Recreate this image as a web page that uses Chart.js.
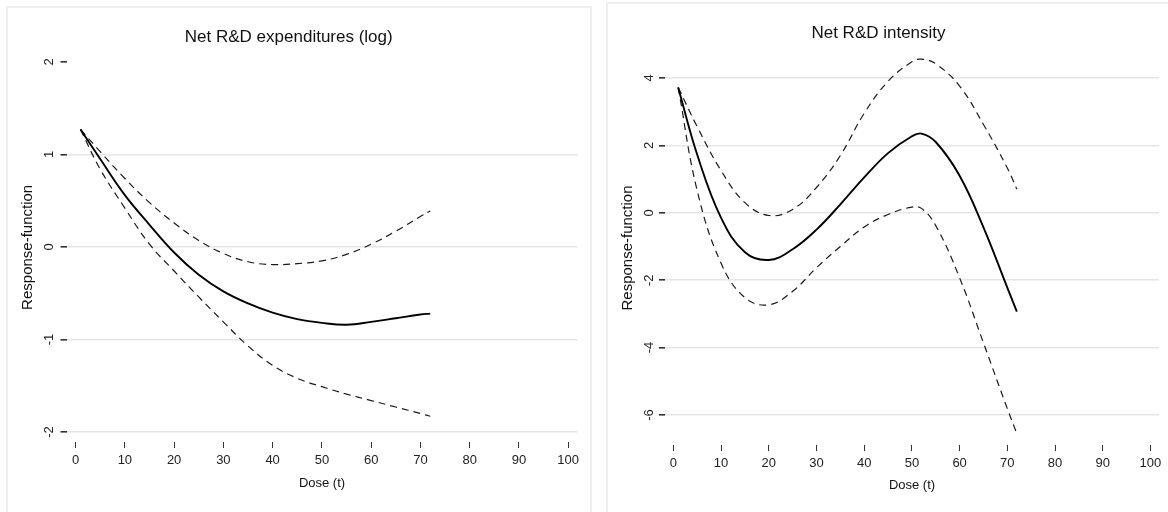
<!DOCTYPE html>
<html>
<head>
<meta charset="utf-8">
<script src="https://cdn.jsdelivr.net/npm/chart.js@4.4.1/dist/chart.umd.min.js"></script>
<style>
  html, body { margin: 0; padding: 0; background: #fff; overflow: hidden; }
  body { width: 1168px; height: 512px; position: relative; }
  .frame { position: absolute; border: 2px solid #eeeeee; box-sizing: border-box; }
  canvas { position: absolute; }
</style>
</head>
<body>
<div class="frame" style="left:6px;top:6px;width:586px;height:530px;"></div>
<div class="frame" style="left:606px;top:2px;width:580px;height:530px;"></div>
<canvas id="leftChart" width="596" height="512" style="left:0;top:0;"></canvas>
<canvas id="rightChart" width="570" height="512" style="left:598px;top:0;"></canvas>
<script>
const doseLeft = [1, 5, 10, 15, 20, 25, 30, 35, 40, 45, 50, 55, 60, 65, 70, 72];
const doseRight = [1, 5, 10, 15, 20, 25, 30, 35, 40, 45, 50, 52, 55, 60, 65, 70, 72];

// Net R&D expenditures (log)
const expResponse = [1.27, 0.95, 0.56, 0.24, -0.06, -0.30, -0.48, -0.61, -0.71, -0.78, -0.82, -0.84, -0.81, -0.77, -0.73, -0.72];
const expUpper = [1.27, 1.03, 0.74, 0.48, 0.26, 0.07, -0.07, -0.16, -0.19, -0.18, -0.15, -0.08, 0.03, 0.17, 0.33, 0.39];
const expLower = [1.27, 0.84, 0.42, 0.03, -0.26, -0.54, -0.81, -1.07, -1.28, -1.42, -1.51, -1.59, -1.66, -1.73, -1.80, -1.83];

// Net R&D intensity
const intResponse = [3.72, 1.72, -0.15, -1.17, -1.40, -1.08, -0.50, 0.25, 1.05, 1.77, 2.27, 2.35, 2.10, 1.10, -0.43, -2.22, -2.93];
const intUpper = [3.72, 2.55, 1.25, 0.30, -0.08, 0.10, 0.75, 1.70, 2.95, 3.90, 4.48, 4.56, 4.42, 3.76, 2.62, 1.33, 0.70];
const intLower = [3.72, 0.65, -1.50, -2.52, -2.73, -2.33, -1.63, -1.00, -0.42, -0.05, 0.17, 0.13, -0.38, -1.93, -3.86, -5.81, -6.55];

const xTicks = [0, 10, 20, 30, 40, 50, 60, 70, 80, 90, 100];
const yTicksLeft = [-2, -1, 0, 1, 2];
const yTicksRight = [-6, -4, -2, 0, 2, 4];

const FONT = "'Liberation Sans', Arial, sans-serif";

function toPoints(xs, ys) {
  return xs.map((x, i) => ({ x: x, y: ys[i] }));
}

function lineSet(xs, ys, dashed) {
  return {
    data: toPoints(xs, ys),
    borderColor: dashed ? '#1a1a1a' : '#000',
    borderWidth: dashed ? 1.2 : 1.9,
    borderDash: dashed ? [7, 5] : [],
    pointRadius: 0,
    fill: false,
    tension: 0.4
  };
}

function makeChart(id, cfg) {
  const ctx = document.getElementById(id).getContext('2d');
  return new Chart(ctx, {
    type: 'line',
    data: {
      datasets: [
        lineSet(cfg.xs, cfg.mid, false),
        lineSet(cfg.xs, cfg.hi, true),
        lineSet(cfg.xs, cfg.lo, true)
      ]
    },
    options: {
      responsive: false,
      animation: false,
      layout: { padding: { left: 0, right: cfg.padRight, top: 0, bottom: cfg.padBottom } },
      plugins: {
        legend: { display: false },
        tooltip: { enabled: false },
        title: {
          display: true,
          text: cfg.title,
          color: '#111',
          font: { family: FONT, size: 17, weight: 'normal', lineHeight: 1.2 },
          padding: { top: cfg.titleTop, bottom: cfg.titleBottom }
        }
      },
      scales: {
        x: {
          type: 'linear',
          min: cfg.xMin,
          max: cfg.xMax,
          afterBuildTicks: s => { s.ticks = xTicks.map(v => ({ value: v })); },
          afterFit: s => { s.height = 50; },
          border: { display: false },
          grid: { drawOnChartArea: false, drawTicks: true, tickLength: 6, tickColor: '#333', tickWidth: 1 },
          ticks: { color: '#222', padding: 5, maxRotation: 0, font: { family: FONT, size: 13 } },
          title: {
            display: true,
            text: 'Dose (t)',
            color: '#111',
            font: { family: FONT, size: 13 },
            padding: { top: 0, bottom: cfg.xTitlePad }
          }
        },
        y: {
          type: 'linear',
          min: cfg.yMin,
          max: cfg.yMax,
          afterBuildTicks: s => { s.ticks = cfg.yTicks.map(v => ({ value: v })); },
          afterFit: s => { s.width = cfg.yWidth; },
          border: { display: false },
          grid: {
            color: c => (cfg.noGrid.includes(c.tick && c.tick.value) ? 'rgba(0,0,0,0)' : '#e6e6e6'),
            lineWidth: 1.6,
            drawTicks: true,
            tickLength: 6,
            tickColor: '#333',
            tickWidth: 1.6
          },
          ticks: {
            color: '#222',
            minRotation: 90,
            maxRotation: 90,
            crossAlign: 'center',
            padding: cfg.yTickPad,
            font: { family: FONT, size: 13 }
          },
          title: {
            display: true,
            text: 'Response-function',
            color: '#111',
            font: { family: FONT, size: 15 },
            padding: { top: cfg.yTitlePad, bottom: 0 }
          }
        }
      }
    }
  });
}

makeChart('leftChart', {
  title: 'Net R&D expenditures (log)',
  xs: doseLeft, mid: expResponse, hi: expUpper, lo: expLower,
  yTicks: yTicksLeft, noGrid: [2],
  xMin: -1.85, xMax: 101.9, yMin: -2.108, yMax: 2.1,
  yWidth: 66.5, padRight: 18.5, padBottom: 20,
  titleTop: 26.8, titleBottom: 5.5,
  xTitlePad: 1.2, yTitlePad: 19, yTickPad: 5.7
});

makeChart('rightChart', {
  title: 'Net R&D intensity',
  xs: doseRight, mid: intResponse, hi: intUpper, lo: intLower,
  yTicks: yTicksRight, noGrid: [],
  xMin: -1.76, xMax: 101.8, yMin: -6.89, yMax: 4.8,
  yWidth: 67, padRight: 9, padBottom: 17,
  titleTop: 22.8, titleBottom: 7.8,
  xTitlePad: 2.2, yTitlePad: 21, yTickPad: 4.2
});
</script>
</body>
</html>
